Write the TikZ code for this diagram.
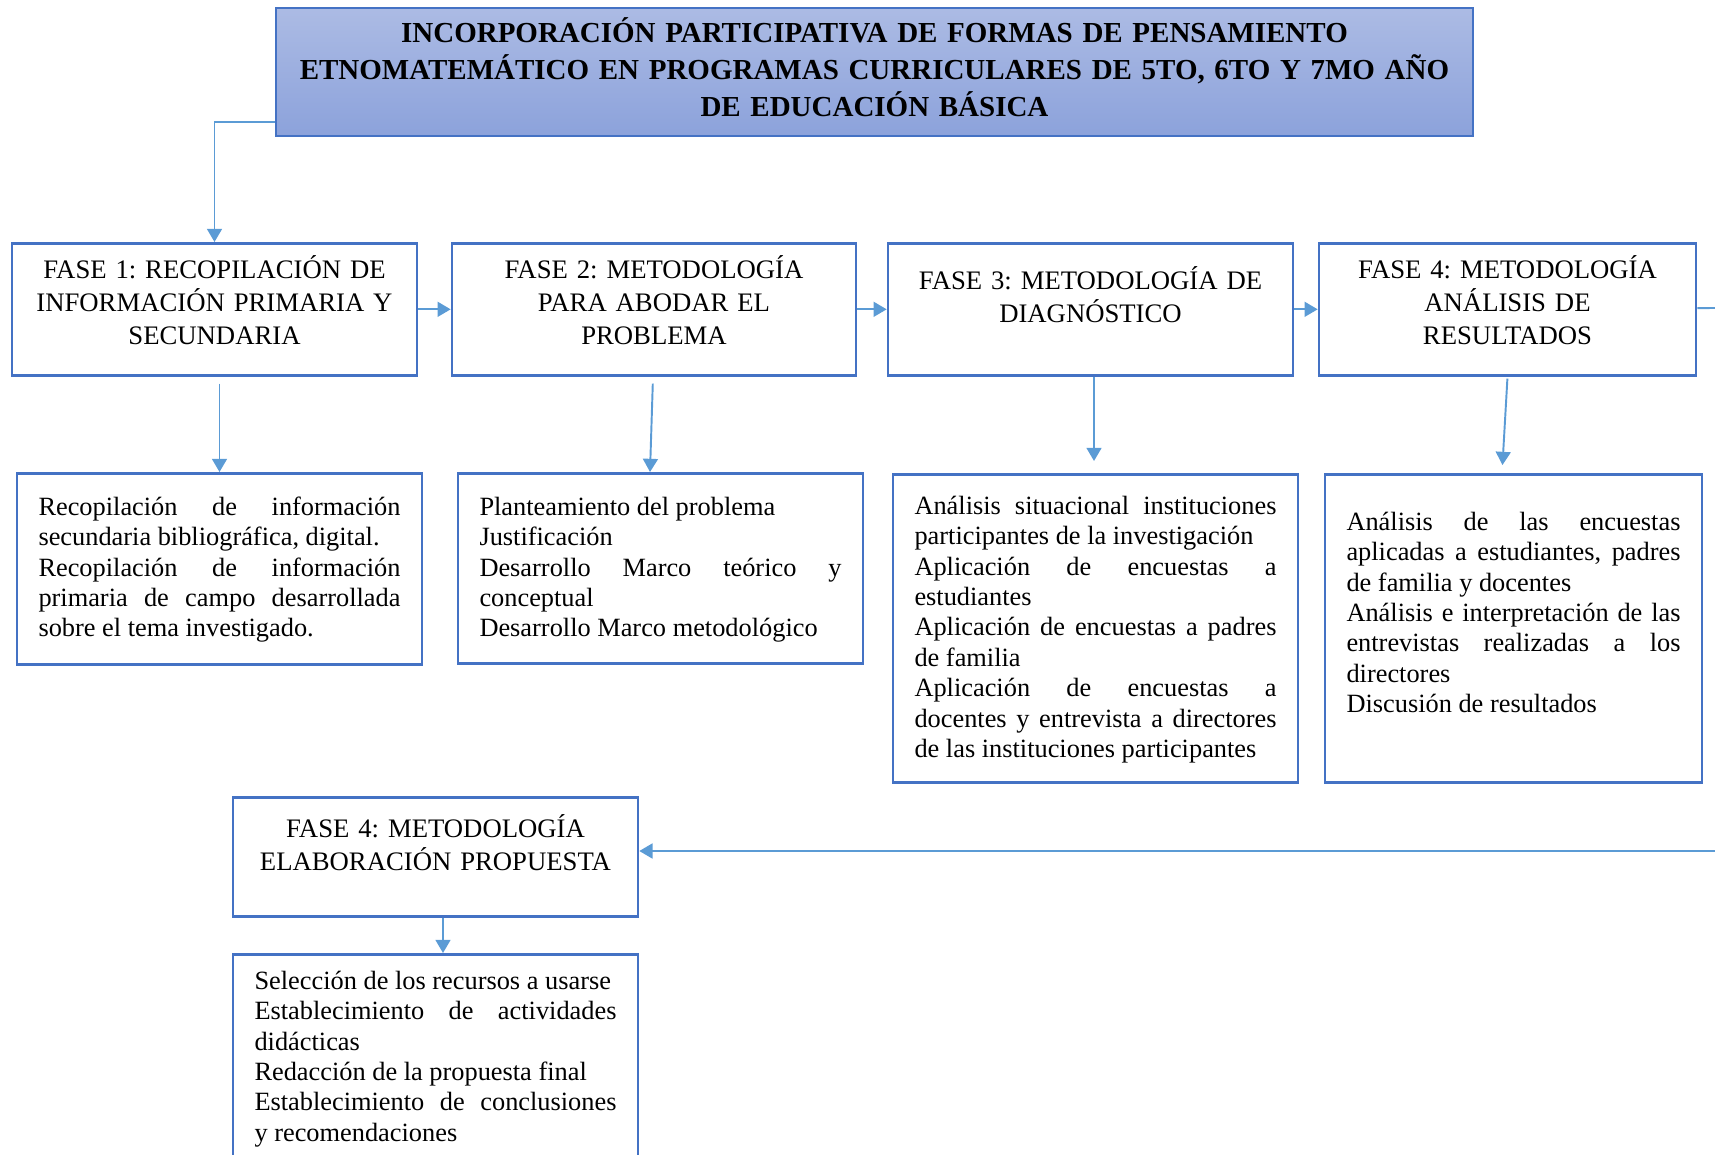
\documentclass[tikz,border=0pt]{standalone}
\usepackage{fontspec}
\setmainfont{Liberation Serif}
\usepackage{xcolor}
\usetikzlibrary{arrows.meta,positioning,calc}

\definecolor{boxblue}{RGB}{68,114,196}
\definecolor{linkblue}{RGB}{91,155,213}
\definecolor{titletop}{RGB}{172,187,228}
\definecolor{titlebot}{RGB}{140,162,219}

\hyphenpenalty=10000
\exhyphenpenalty=10000
\tolerance=9999
\frenchspacing

\tikzset{
  titlebox/.style={draw=boxblue, line width=1.1pt, top color=titletop, bottom color=titlebot,
    minimum width=23.94cm, text width=23cm, align=center, inner xsep=0.4cm, inner ysep=0pt,
    text height=0.7cm, text depth=1.86cm, anchor=north,
    font=\bfseries\fontsize{16.5}{21}\selectfont},
  fasebox/.style={draw=boxblue, line width=1.5pt, fill=white, text width=#1, align=center,
    inner xsep=0.3cm, inner ysep=0pt, anchor=north,
    font=\fontsize{15.2}{18.8}\selectfont},
  infobox/.style={draw=boxblue, line width=1.5pt, fill=white, text width=#1, align=justify,
    inner xsep=0.43cm, inner ysep=0pt, anchor=north,
    font=\fontsize{15}{17.3}\selectfont},
  link/.style={draw=linkblue, line width=1.1pt},
}

\begin{document}
\begin{tikzpicture}[>={Triangle[length=7.5pt,width=8.5pt]}]
\useasboundingbox (0,0) rectangle (34.3,-23.1);

% Title
\node[titlebox] (title) at (17.49,-0.14) {INCORPORACIÓN PARTICIPATIVA DE FORMAS DE PENSAMIENTO\\
  ETNOMATEMÁTICO EN PROGRAMAS CURRICULARES DE 5TO, 6TO Y 7MO AÑO\\
  DE EDUCACIÓN BÁSICA};

% Phases
\node[fasebox=7.5cm, text height=0.7cm, text depth=1.94cm] (f1) at (4.29,-4.84) {FASE 1: RECOPILACIÓN DE\\ INFORMACIÓN PRIMARIA Y\\ SECUNDARIA};
\node[fasebox=7.48cm, text height=0.7cm, text depth=1.94cm] (f2) at (13.08,-4.84) {FASE 2: METODOLOGÍA\\ PARA ABODAR EL\\ PROBLEMA};
\node[fasebox=7.5cm, text height=0.92cm, text depth=1.72cm] (f3) at (21.81,-4.84) {FASE 3: METODOLOGÍA DE\\ DIAGNÓSTICO};
\node[fasebox=6.94cm, text height=0.7cm, text depth=1.94cm] (f4) at (30.15,-4.84) {FASE 4: METODOLOGÍA\\ ANÁLISIS DE\\ RESULTADOS};

% Activities
\node[infobox=7.24cm, text height=0.84cm, text depth=2.98cm] (d1) at (4.39,-9.44) {Recopilación de información secundaria bibliográfica, digital.\\
  Recopilación de información primaria de campo desarrollada sobre el tema investigado.};
\node[infobox=7.24cm, text height=0.84cm, text depth=2.96cm] (d2) at (13.21,-9.44) {Planteamiento del problema\\
  Justificación\\
  Desarrollo Marco teórico y conceptual\\
  Desarrollo Marco metodológico};
\node[infobox=7.24cm, text height=0.8cm, text depth=5.36cm] (d3) at (21.91,-9.46) {Análisis situacional instituciones participantes de la investigación\\
  Aplicación de encuestas a estudiantes\\
  Aplicación de encuestas a padres de familia\\
  Aplicación de encuestas a docentes y entrevista a directores de las instituciones participantes};
\node[infobox=6.68cm, text height=1.12cm, text depth=5.04cm] (d4) at (30.27,-9.46) {Análisis de las encuestas aplicadas a estudiantes, padres de familia y docentes\\
  Análisis e interpretación de las\linebreak entrevistas realizadas a los directores\\
  Discusión de resultados};

% Proposal
\node[fasebox=7.5cm, text height=0.8cm, text depth=1.58cm] (p) at (8.71,-15.92) {FASE 4: METODOLOGÍA\\ ELABORACIÓN PROPUESTA};
\node[infobox=7.24cm, text height=0.7cm, text depth=5cm] (pd) at (8.71,-19.06) {Selección de los recursos a usarse\\
  Establecimiento de actividades didácticas\\
  Redacción de la propuesta final\\
  Establecimiento de conclusiones\linebreak y recomendaciones};

% Page edges
\coordinate (redge) at (34.3,-6.16);
\coordinate (ledge) at (34.3,-17.02);

% Connections
\draw[link,->] ([yshift=0.3cm]title.south west) -| (f1.north);
\draw[link,->] (f1) -- (f2);
\draw[link,->] (f2) -- (f3);
\draw[link,->] (f3) -- (f4);
\draw[link] (f4) -- (redge);
\draw[link,->,shorten <=0.14cm] (d1.north |- f1.south) -- (d1.north);
\draw[link,->,shorten <=0.14cm] ([xshift=-0.02cm]f2.south) -- ([xshift=-0.21cm]d2.north);
\draw[link,->,shorten >=0.24cm] ([xshift=0.07cm]f3.south) -- ([xshift=-0.03cm]d3.north);
\draw[link,->,shorten <=0.04cm,shorten >=0.16cm] (f4.south) -- ([xshift=-0.23cm]d4.north);
\draw[link,->] (ledge) -- (ledge -| p.east);
\draw[link,->] ([xshift=0.15cm]p.south) -- ([xshift=0.15cm]pd.north);

\end{tikzpicture}
\end{document}
